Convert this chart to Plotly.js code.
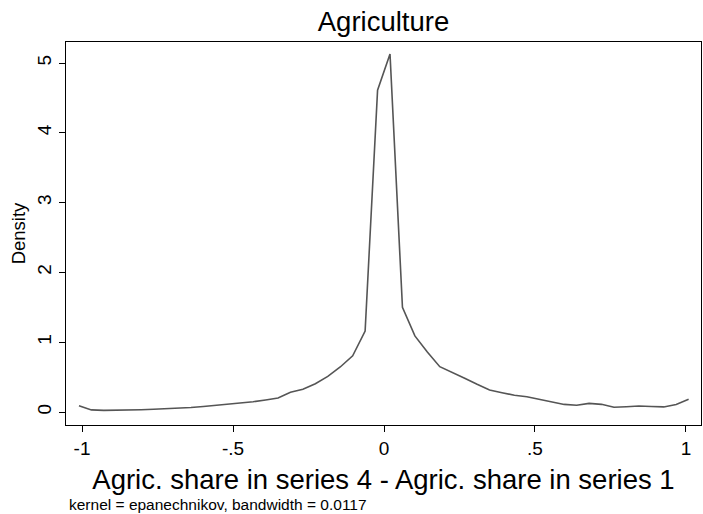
<!DOCTYPE html>
<html>
<head>
<meta charset="utf-8">
<script src="https://cdn.plot.ly/plotly-3.0.1.min.js"></script>
<style>
  html, body { margin: 0; padding: 0; background: #fff; }
  #chart { width: 703px; height: 514px; }
</style>
</head>
<body>
<div id="chart"></div>
<script>
// Kernel density estimate of the change in agricultural share (series 4 minus series 1)
const gridX = [
  -1.0101, -0.9689, -0.9277, -0.8865, -0.8453, -0.8041, -0.7629, -0.7217, -0.6805, -0.6393,
  -0.5981, -0.5569, -0.5157, -0.4745, -0.4333, -0.3921, -0.3509, -0.3097, -0.2685, -0.2273,
  -0.1861, -0.1449, -0.1037, -0.0625, -0.0213, 0.0199, 0.0611, 0.1023, 0.1435, 0.1847,
  0.2259, 0.2671, 0.3083, 0.3495, 0.3907, 0.4319, 0.4731, 0.5143, 0.5555, 0.5967,
  0.6379, 0.6791, 0.7203, 0.7615, 0.8027, 0.8439, 0.8851, 0.9263, 0.9675, 1.0087
];
const density = [
  0.090, 0.030, 0.024, 0.025, 0.028, 0.033, 0.039, 0.046, 0.056, 0.064,
  0.078, 0.093, 0.113, 0.129, 0.148, 0.172, 0.200, 0.282, 0.325, 0.405,
  0.510, 0.645, 0.805, 1.160, 4.610, 5.130, 1.500, 1.090, 0.860, 0.650,
  0.570, 0.485, 0.397, 0.315, 0.277, 0.240, 0.219, 0.182, 0.139, 0.109,
  0.096, 0.124, 0.110, 0.068, 0.076, 0.086, 0.079, 0.073, 0.107, 0.182
];
const xTickVals = [-1, -0.5, 0, 0.5, 1];
const xTickText = ['-1', '-.5', '0', '.5', '1'];
const yTickVals = [0, 1, 2, 3, 4, 5];
const yTickText = ['0', '1', '2', '3', '4', '5'];

const FONT = "'Liberation Sans', Arial, Helvetica, sans-serif";

const trace = {
  x: gridX,
  y: density,
  type: 'scatter',
  mode: 'lines',
  line: { color: '#555555', width: 1.6 },
  hoverinfo: 'x+y'
};

const layout = {
  width: 703,
  height: 514,
  margin: { l: 66, r: 2, t: 42, b: 89 },
  paper_bgcolor: '#ffffff',
  plot_bgcolor: '#ffffff',
  font: { family: FONT, color: '#000000' },
  showlegend: false,
  title: {
    text: 'Agriculture',
    font: { family: FONT, size: 27.5, color: '#000000' },
    x: 0.5, xref: 'paper', xanchor: 'center',
    y: 1 - 21 / 514, yref: 'container', yanchor: 'middle'
  },
  xaxis: {
    range: [-1.053, 1.0497],
    tickvals: xTickVals,
    ticktext: xTickText,
    ticks: 'outside', ticklen: 6, tickwidth: 1, tickcolor: '#000',
    showgrid: false, zeroline: false,
    showline: true, linecolor: '#000', linewidth: 1, mirror: true,
    tickfont: { family: FONT, size: 19, color: '#000' },
    title: {
      text: 'Agric. share in series 4 - Agric. share in series 1',
      font: { family: FONT, size: 27.5, color: '#000' },
      standoff: 11
    }
  },
  yaxis: {
    range: [-0.186, 5.301],
    tickvals: yTickVals,
    ticktext: yTickText,
    tickangle: -90,
    ticks: 'outside', ticklen: 6, tickwidth: 1, tickcolor: '#000',
    showgrid: false, zeroline: false,
    showline: true, linecolor: '#000', linewidth: 1, mirror: true,
    tickfont: { family: FONT, size: 19, color: '#000' },
    title: {
      text: 'Density',
      font: { family: FONT, size: 18.5, color: '#000' },
      standoff: 3
    }
  },
  annotations: [{
    text: 'kernel = epanechnikov, bandwidth = 0.0117',
    xref: 'paper', yref: 'paper',
    x: 0.002, y: -(504 - 425) / 383,
    xanchor: 'left', yanchor: 'middle',
    showarrow: false,
    font: { family: FONT, size: 15.5, color: '#000' }
  }]
};

Plotly.newPlot('chart', [trace], layout, { displayModeBar: false, staticPlot: true });
</script>
</body>
</html>
